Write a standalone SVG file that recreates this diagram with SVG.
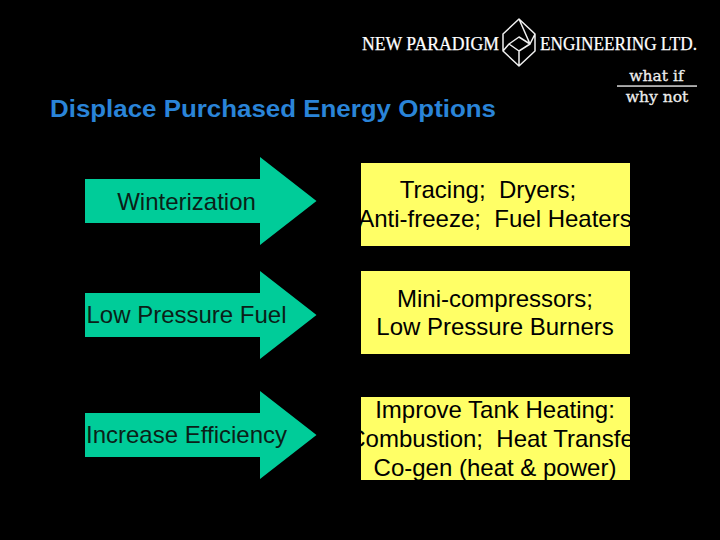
<svg xmlns="http://www.w3.org/2000/svg" width="720" height="540" viewBox="0 0 720 540">
<style>
text{font-family:"Liberation Sans",Arial,sans-serif;white-space:pre}
.arrow{fill:#00cc99}
.box{fill:#ffff66}
.t{font-size:24px;fill:#000;text-anchor:middle}
.a{font-size:24px;fill:#0b1f18;text-anchor:middle}
.logo{font-family:"Liberation Serif","Times New Roman",serif;fill:#fff;stroke:#fff;stroke-width:.25px;font-size:18px}
.wi{font-family:"DejaVu Serif",serif;fill:#eee;stroke:#eee;stroke-width:.3px;font-size:15.500px;text-anchor:middle}
.ln{fill:none;stroke:#f0f0f0;stroke-width:1.500;stroke-linejoin:round}
</style>
<rect width="720" height="540" fill="#000"/>
<g id="logo">
<text class="logo" x="362" y="49.500" textLength="137" lengthAdjust="spacingAndGlyphs">NEW PARADIGM</text>
<text class="logo" x="540" y="49.500" textLength="157" lengthAdjust="spacingAndGlyphs">ENGINEERING LTD.</text>
<path class="ln" d="M519 19L535 34V51L519 66L503 51V34ZM519 37L530 44L519 51L509 44ZM519 19L530 44M519 51V66M509 44L503 51M530 44L535 34"/>
</g>
<g id="tagline">
<text class="wi" x="656.500" y="81">what if</text>
<rect x="617" y="85.300" width="80" height="1.500" fill="#d8d8d8"/>
<text class="wi" x="657" y="102">why not</text>
</g>
<text id="title" x="50" y="117" font-size="24" font-weight="bold" fill="#2a84d8" textLength="446" lengthAdjust="spacingAndGlyphs">Displace Purchased Energy Options</text>
<g id="arrow-winterization">
<path class="arrow" d="M85 179H260V157L316.500 201L260 245V223H85Z"/>
<text class="a" x="186.500" y="210">Winterization</text>
</g>
<g id="arrow-low-pressure">
<path class="arrow" d="M85 293H260V271L316.500 315L260 359V337H85Z"/>
<text class="a" x="186.500" y="323">Low Pressure Fuel</text>
</g>
<g id="arrow-efficiency">
<path class="arrow" d="M85 413H260V391L316.500 435L260 479V457H85Z"/>
<text class="a" x="186.500" y="443">Increase Efficiency</text>
</g>
<g id="box-winterization">
<rect class="box" x="361" y="163" width="269" height="83"/>
<text class="t" x="488" y="198">Tracing;  Dryers;</text>
<text class="t" x="495" y="226.500">Anti-freeze;  Fuel Heaters</text>
</g>
<g id="box-low-pressure">
<rect class="box" x="361" y="271" width="269" height="83"/>
<text class="t" x="495" y="306.500">Mini-compressors;</text>
<text class="t" x="495" y="334.500">Low Pressure Burners</text>
</g>
<g id="box-efficiency">
<rect class="box" x="361" y="397" width="269" height="83"/>
<text class="t" x="495" y="418">Improve Tank Heating:</text>
<text class="t" x="495" y="447">Combustion;  Heat Transfer</text>
<text class="t" x="495" y="476">Co-gen (heat &amp; power)</text>
</g>
<g id="connectors"/>
</svg>
